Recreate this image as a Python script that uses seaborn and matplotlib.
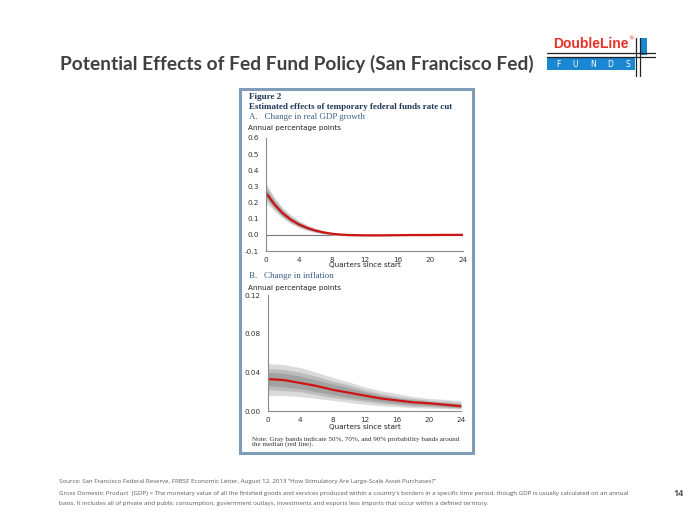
import numpy as np
import matplotlib
matplotlib.use("Agg")
import matplotlib.pyplot as plt
import matplotlib.patches as patches
import seaborn as sns
import pandas as pd

sns.set_style("white")
plt.rcParams['font.family'] = ['DejaVu Sans']

# Panel A: change in real GDP growth
quarters_a = [0, 1, 2, 3, 4, 5, 6, 7, 8, 9, 10, 12, 14, 16, 18, 20, 22, 24]
gdp_median = [0.26, 0.19, 0.135, 0.095, 0.065, 0.043, 0.027, 0.015, 0.007, 0.002, -0.001,
              -0.003, -0.003, -0.002, -0.001, -0.001, 0.0, 0.0]
gdp_hi90 = [0.32, 0.235, 0.17, 0.125, 0.09, 0.063, 0.042, 0.027, 0.016, 0.009, 0.005,
            0.002, 0.001, 0.001, 0.001, 0.001, 0.001, 0.001]
gdp_lo90 = [0.20, 0.15, 0.105, 0.07, 0.045, 0.027, 0.014, 0.006, 0.0, -0.004, -0.006,
            -0.007, -0.006, -0.005, -0.003, -0.002, -0.002, -0.002]
gdp_hi70 = [0.30, 0.222, 0.16, 0.115, 0.082, 0.057, 0.037, 0.023, 0.013, 0.007, 0.003,
            0.0, 0.0, 0.0, 0.0, 0.0, 0.0, 0.0]
gdp_lo70 = [0.22, 0.162, 0.113, 0.077, 0.05, 0.031, 0.018, 0.009, 0.002, -0.002, -0.004,
            -0.005, -0.005, -0.004, -0.002, -0.002, -0.001, -0.001]
gdp_hi50 = [0.285, 0.21, 0.151, 0.107, 0.075, 0.052, 0.033, 0.02, 0.011, 0.005, 0.001,
            -0.001, -0.001, -0.001, 0.0, 0.0, 0.0, 0.0]
gdp_lo50 = [0.235, 0.172, 0.12, 0.083, 0.055, 0.035, 0.021, 0.011, 0.004, 0.0, -0.003,
            -0.004, -0.004, -0.003, -0.002, -0.001, -0.001, -0.001]

# Panel B: change in inflation
quarters_b = [0, 2, 4, 6, 8, 10, 12, 14, 16, 18, 20, 22, 24]
inf_median = [0.033, 0.032, 0.029, 0.026, 0.022, 0.019, 0.016, 0.013, 0.011, 0.009, 0.008, 0.0065, 0.005]
inf_hi90 = [0.049, 0.048, 0.045, 0.040, 0.035, 0.030, 0.025, 0.021, 0.018, 0.015, 0.013, 0.012, 0.0105]
inf_lo90 = [0.016, 0.016, 0.015, 0.013, 0.011, 0.009, 0.007, 0.0055, 0.0045, 0.0035, 0.003, 0.0025, 0.002]
inf_hi70 = [0.044, 0.043, 0.040, 0.036, 0.031, 0.027, 0.022, 0.018, 0.015, 0.013, 0.011, 0.010, 0.0085]
inf_lo70 = [0.022, 0.021, 0.020, 0.017, 0.014, 0.012, 0.010, 0.008, 0.0065, 0.005, 0.0045, 0.0035, 0.003]
inf_hi50 = [0.040, 0.039, 0.036, 0.032, 0.028, 0.024, 0.020, 0.016, 0.0135, 0.0115, 0.0098, 0.0085, 0.007]
inf_lo50 = [0.026, 0.025, 0.023, 0.020, 0.017, 0.014, 0.012, 0.010, 0.008, 0.0065, 0.0058, 0.0046, 0.0035]

x_ticks = [0, 4, 8, 12, 16, 20, 24]
a_ticks = [-0.1, 0.0, 0.1, 0.2, 0.3, 0.4, 0.5, 0.6]
b_ticks = [0.0, 0.04, 0.08, 0.12]

title = "Potential Effects of Fed Fund Policy (San Francisco Fed)"
source_text = "Source: San Francisco Federal Reserve, FRBSF Economic Letter, August 12, 2013 \u201cHow Stimulatory Are Large-Scale Asset Purchases?\u201d"
gdp_text = ("Gross Domestic Product  (GDP) = The monetary value of all the finished goods and services produced within a country's borders in a specific time period, though GDP is usually calculated on an annual\n"
            "basis. It includes all of private and public consumption, government outlays, investments and exports less imports that occur within a defined territory.")

W, H = 700, 525
fig = plt.figure(figsize=(7, 5.25), dpi=100)


def px(x, y):
    # pixel coords (top-left origin) -> figure fraction
    return x / W, 1 - y / H


def add_axes_px(x0, x1, ytop, ybot):
    return fig.add_axes([x0 / W, 1 - ybot / H, (x1 - x0) / W, (ybot - ytop) / H])


band_cols = ['#dadada', '#bcbcbc', '#a2a2a2']
red = '#cc1414'
tick_col = '#333333'
spine_col = '#8a8a8a'


def draw_panel(ax, q, med, bands, ylim, yticks, fmt):
    for (lo, hi), c in zip(bands, band_cols):
        ax.fill_between(q, lo, hi, color=c, linewidth=0)
    df = pd.DataFrame({'q': q, 'v': med})
    sns.lineplot(data=df, x='q', y='v', ax=ax, color=red, linewidth=1.6)
    ax.set_xlim(0, 24)
    ax.set_ylim(*ylim)
    ax.set_xticks(x_ticks)
    ax.set_yticks(yticks)
    ax.set_yticklabels([fmt.format(t) for t in yticks])
    ax.set_xlabel('')
    ax.set_ylabel('')
    ax.patch.set_alpha(0)
    for s in ['top', 'right']:
        ax.spines[s].set_visible(False)
    for s in ['left', 'bottom']:
        ax.spines[s].set_color(spine_col)
        ax.spines[s].set_linewidth(0.8)
    ax.tick_params(axis='y', length=2, width=0.6, color=spine_col, pad=3,
                   labelsize=5.2, labelcolor=tick_col)
    ax.tick_params(axis='x', length=0, pad=4, labelsize=5.2, labelcolor=tick_col)


# Panel border
fig.patches.append(patches.Rectangle(px(240, 453), (473 - 240) / W, (453 - 89) / H,
                                     transform=fig.transFigure, fill=False,
                                     edgecolor='#7f9db8', linewidth=2.2))

ax_a = add_axes_px(266, 463, 138, 251)
draw_panel(ax_a, quarters_a, gdp_median,
           [(gdp_lo90, gdp_hi90), (gdp_lo70, gdp_hi70), (gdp_lo50, gdp_hi50)],
           (-0.1, 0.6), a_ticks, '{:.1f}')
ax_a.axhline(0, color='#7a7a7a', linewidth=0.8, zorder=0.5)

ax_b = add_axes_px(268, 461, 295, 411)
draw_panel(ax_b, quarters_b, inf_median,
           [(inf_lo90, inf_hi90), (inf_lo70, inf_hi70), (inf_lo50, inf_hi50)],
           (0.0, 0.12), b_ticks, '{:.2f}')

serif = ['Liberation Serif', 'DejaVu Serif']
navy = '#1d3557'
blue_txt = '#3a5f85'
fig.text(*px(249, 97), 'Figure 2', family=serif, weight='bold', fontsize=6.6, color=navy, va='center')
fig.text(*px(249, 107), 'Estimated effects of temporary federal funds rate cut', family=serif,
         weight='bold', fontsize=6.5, color=navy, va='center')
fig.text(*px(249, 117), 'A.   Change in real GDP growth', family=serif, fontsize=6.5,
         color=blue_txt, va='center')
fig.text(*px(248, 128), 'Annual percentage points', fontsize=5.2, color='#222222', va='center')
fig.text(*px(365, 265), 'Quarters since start', fontsize=5.2, color='#222222', va='center', ha='center')
fig.text(*px(249, 276), 'B.   Change in inflation', family=serif, fontsize=6.5,
         color=blue_txt, va='center')
fig.text(*px(248, 288), 'Annual percentage points', fontsize=5.2, color='#222222', va='center')
fig.text(*px(365, 427), 'Quarters since start', fontsize=5.2, color='#222222', va='center', ha='center')
fig.text(*px(252, 442), 'Note: Gray bands indicate 50%, 70%, and 90% probability bands around\nthe median (red line).',
         family=serif, fontsize=5.1, color='#333333', va='center', linespacing=1.0)

# Title
fig.text(*px(60, 64), title, family=['Lato', 'DejaVu Sans'], weight='bold', fontsize=13.8,
         color='#404040', va='center', ha='left')

# Logo
fig.text(*px(553, 44), 'DoubleLine', family=['Liberation Sans', 'DejaVu Sans'], weight='bold',
         fontsize=10, color='#e63228', va='center', ha='left')
fig.text(*px(628, 39), '\u00ae', fontsize=4, color='#e63228', va='center')
fig.patches.append(patches.Rectangle(px(547, 70), 88 / W, 12 / H, transform=fig.transFigure,
                                     color='#1b86d1', linewidth=0))
fig.patches.append(patches.Rectangle(px(640, 55), 7 / W, 17 / H, transform=fig.transFigure,
                                     color='#1b86d1', linewidth=0))
for yy in [52.5, 56.5]:
    fig.add_artist(plt.Line2D([547 / W, 655 / W], [1 - yy / H] * 2, color='#222222', linewidth=0.9))
for xx in [635.5, 639.5]:
    fig.add_artist(plt.Line2D([xx / W] * 2, [1 - 38 / H, 1 - 76 / H], color='#222222', linewidth=0.9))
for i, ch in enumerate('FUNDS'):
    fig.text(*px(558 + i * 17.5, 64), ch, fontsize=5.5, color='white', va='center', ha='center')

# Footer
foot_fam = ['Open Sans', 'DejaVu Sans']
fig.text(*px(59, 481), source_text, family=foot_fam, fontsize=4.4, color='#595959', va='center')
fig.text(*px(59, 498.5), gdp_text, family=foot_fam, fontsize=4.4, color='#595959', va='center',
         linespacing=2.0)
fig.text(*px(673, 493), '14', family=foot_fam, weight='bold', fontsize=6.5, color='#595959', va='center')

fig.savefig('out.png', dpi=100)
